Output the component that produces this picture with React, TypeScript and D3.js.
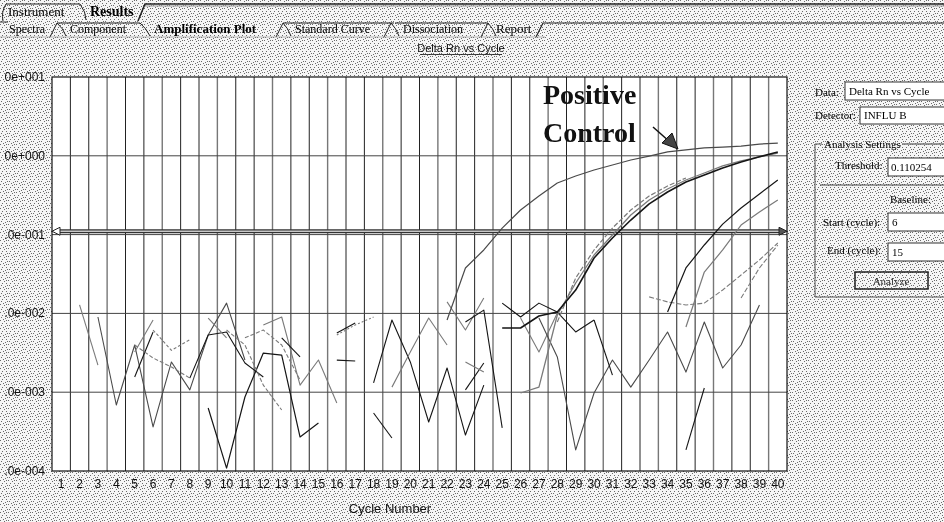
import React from 'react';
import * as d3 from 'd3';

// ---------- data ----------
const cycles = d3.range(1, 41);
const yTickValues = [1e-4, 1e-3, 1e-2, 1e-1, 1, 10];
const yTickLabels = ['.0e-004', '.0e-003', '.0e-002', '.0e-001', '0e+000', '0e+001'];
const threshold = 0.110254;

type Series = { start: number; values: number[] };

// amplification curves
const positiveControl: Series = { start: 22, values: [0.00825, 0.0377, 0.0638, 0.121, 0.205, 0.309, 0.452, 0.554, 0.661, 0.764, 0.885, 0.99, 1.12, 1.19, 1.26, 1.29, 1.33, 1.41, 1.45] };
const sampleA1: Series = { start: 25, values: [0.00653, 0.00653, 0.00927, 0.0104, 0.0198, 0.0505, 0.0906, 0.153, 0.245, 0.347, 0.465, 0.571, 0.7, 0.834, 0.97, 1.12] };
const sampleA2: Series = { start: 26, values: [0.000977, 0.00116, 0.00955, 0.0243, 0.0551, 0.0988, 0.177, 0.275, 0.379, 0.493, 0.605, 0.743, 0.86, 0.97, 1.08] };
const sampleA3: Series = { start: 28, values: [0.00778, 0.0281, 0.0638, 0.121, 0.205, 0.309, 0.414, 0.523] };
const sampleB1: Series = { start: 34, values: [0.0104, 0.0377, 0.0738, 0.136, 0.218, 0.328, 0.493] };
const sampleB2: Series = { start: 35, values: [0.00672, 0.0335, 0.0638, 0.132, 0.194, 0.275] };
const sampleB3: Series = { start: 33, values: [0.0162, 0.014, 0.0128, 0.0135, 0.0198, 0.0307, 0.0476, 0.0782] };
const sampleB4: Series = { start: 38, values: [0.0157, 0.0377, 0.0738] };

// baseline noise fragments
const n1: Series = { start: 2, values: [0.0128, 0.00221] };
const n2: Series = { start: 3, values: [0.009, 0.000688, 0.00397, 0.000362, 0.00242, 0.00107, 0.00532, 0.0135, 0.00256] };
const n3: Series = { start: 5, values: [0.00156, 0.00581] };
const n4: Series = { start: 5, values: [0.00397, 0.00272, 0.00209, 0.00151] };
const n5: Series = { start: 5, values: [0.00324, 0.00825] };
const n6: Series = { start: 8, values: [0.00151, 0.00532, 0.00581, 0.00235, 0.00156] };
const n7: Series = { start: 9, values: [0.00063, 0.000109, 0.000869, 0.00314, 0.00296, 0.00027, 0.000407] };
const n8: Series = { start: 12, values: [0.00713, 0.009, 0.00123, 0.00256, 0.000729] };
const n9: Series = { start: 10, values: [0.00615, 0.00397, 0.00123, 0.000594] };
const n10: Series = { start: 9, values: [0.00874, 0.0049] };
const n11: Series = { start: 16, values: [0.00564, 0.00755] };
const n12: Series = { start: 16, values: [0.00532, 0.00713, 0.009] };
const n13: Series = { start: 16, values: [0.00256, 0.00249] };
const n14: Series = { start: 18, values: [0.000545, 0.000262] };
const n15: Series = { start: 18, values: [0.00131, 0.00825, 0.00242, 0.000419, 0.00203, 0.000286, 0.00123] };
const n16: Series = { start: 19, values: [0.00116, 0.00324, 0.00874, 0.00397] };
const n17: Series = { start: 22, values: [0.014, 0.00615, 0.0157] };
const n18: Series = { start: 23, values: [0.00778, 0.011, 0.000352] };
const n19: Series = { start: 25, values: [0.0135, 0.009, 0.0135, 0.0104, 0.00581, 0.00825] };
const n20: Series = { start: 26, values: [0.00874, 0.00324, 0.0101] };
const n21: Series = { start: 27, values: [0.00874, 0.0028, 0.000185, 0.000977, 0.00256, 0.00116, 0.00256, 0.00581, 0.0018, 0.00778, 0.00203, 0.00397, 0.0128] };
const n22: Series = { start: 30, values: [0.00825, 0.00165] };
const n23: Series = { start: 35, values: [0.000185, 0.00113] };
const n24: Series = { start: 11, values: [0.0049, 0.00615, 0.00397, 0.00143] };
const n25: Series = { start: 23, values: [0.00107, 0.00235] };
const n26: Series = { start: 23, values: [0.00242, 0.0018] };
const n27: Series = { start: 6, values: [0.00615, 0.0034, 0.00465] };
const n28: Series = { start: 13, values: [0.0049, 0.0028] };

const BLACK = '#151515';
const GRAY = '#7a7a7a';
const DARK = '#4a4a4a';

const drawn: { s: Series; c: string; w: number; dash?: string }[] = [
  { s: n1, c: GRAY, w: 1.1 },
  { s: n2, c: DARK, w: 1.1 },
  { s: n3, c: BLACK, w: 1.1 },
  { s: n4, c: GRAY, w: 1.1, dash: '4 2' },
  { s: n5, c: GRAY, w: 1.1 },
  { s: n6, c: BLACK, w: 1.1 },
  { s: n7, c: BLACK, w: 1.2 },
  { s: n8, c: GRAY, w: 1.1 },
  { s: n9, c: GRAY, w: 1.1, dash: '4 2' },
  { s: n10, c: GRAY, w: 1.1 },
  { s: n11, c: BLACK, w: 1.1 },
  { s: n12, c: GRAY, w: 1.1, dash: '2 2' },
  { s: n13, c: BLACK, w: 1.2 },
  { s: n14, c: BLACK, w: 1.1 },
  { s: n15, c: BLACK, w: 1.1 },
  { s: n16, c: GRAY, w: 1.1 },
  { s: n17, c: GRAY, w: 1.1 },
  { s: n18, c: BLACK, w: 1.1 },
  { s: n19, c: BLACK, w: 1.1 },
  { s: n20, c: GRAY, w: 1.1 },
  { s: n21, c: DARK, w: 1.1 },
  { s: n22, c: BLACK, w: 1.1 },
  { s: n23, c: BLACK, w: 1.1 },
  { s: n24, c: GRAY, w: 1.1, dash: '4 2' },
  { s: n25, c: BLACK, w: 1.1 },
  { s: n26, c: GRAY, w: 1.1 },
  { s: n27, c: GRAY, w: 1.1, dash: '3 2' },
  { s: n28, c: BLACK, w: 1.1 },
  { s: sampleB3, c: GRAY, w: 1.1, dash: '5 2' },
  { s: sampleB4, c: GRAY, w: 1.1, dash: '5 2' },
  { s: sampleB2, c: GRAY, w: 1.2 },
  { s: sampleB1, c: BLACK, w: 1.2 },
  { s: sampleA3, c: GRAY, w: 1.2, dash: '5 2' },
  { s: sampleA2, c: GRAY, w: 1.3 },
  { s: sampleA1, c: BLACK, w: 1.6 },
  { s: positiveControl, c: DARK, w: 1.2 },
];

const topTabs = ['Instrument', 'Results'];
const subTabs = ['Spectra', 'Component', 'Amplification Plot', 'Standard Curve', 'Dissociation', 'Report'];

// ---------- component ----------
export default function App() {
  const W = 944, H = 522;
  const L = 52, R = 787, T = 77, B = 471;
  const x = d3.scaleLinear().domain([0.5, 40.5]).range([L, R]);
  const y = d3.scaleLog().domain([1e-4, 10]).range([B, T]);
  const line = d3.line<[number, number]>().x(d => x(d[0])).y(d => y(d[1]));
  const toPts = (s: Series): [number, number][] => s.values.map((v, i) => [s.start + i, v]);

  const dots: [number, number][] = [[0, 0], [4, 1], [2, 3], [6, 3], [1, 5], [5, 6], [3, 7], [7, 5], [6, 0]];
  const serif = 'Liberation Serif, Times New Roman, serif';
  const sans = 'Liberation Sans, Arial, sans-serif';
  const ty = y(threshold);

  return (
    <svg width={W} height={H} style={{ position: 'fixed', left: 0, top: 0, display: 'block' }}>
      <defs>
        <pattern id="stip" width={8} height={8} patternUnits="userSpaceOnUse">
          <rect width={8} height={8} fill="#f5f5f5" />
          {dots.map(([a, b], i) => <rect key={i} x={a} y={b} width={1} height={1} fill="#6a6a6a" />)}
        </pattern>
        <clipPath id="plotClip"><rect x={L} y={T} width={R - L} height={B - T} /></clipPath>
      </defs>
      <rect width={W} height={H} fill="url(#stip)" />

      {/* tabs row 1 */}
      <g fontFamily={serif} fill="#000">
        <path d="M3,21 Q1,12 6,4 L80,4 Q86,12 86,20" fill="none" stroke="#222" strokeWidth={1} />
        <text x={8} y={16} fontSize={13}>{topTabs[0]}</text>
        <text x={90} y={16} fontSize={14} fontWeight="bold">{topTabs[1]}</text>
        <path d="M138,21 L145,4 L944,4" fill="none" stroke="#222" strokeWidth={1.5} />
        <line x1={145} y1={6} x2={944} y2={6} stroke="#999" strokeWidth={1} />
        {/* tabs row 2 */}
        <line x1={0} y1={22} x2={8} y2={22} stroke="#333" />
        <text x={9} y={33} fontSize={12}>{subTabs[0]}</text>
        <path d="M50,37 L57,23 Q63,28 66,36" fill="none" stroke="#222" />
        <path d="M57,23 L140,23 Q146,28 150,36" fill="none" stroke="#222" />
        <text x={70} y={33} fontSize={12}>{subTabs[1]}</text>
        <text x={154} y={33} fontSize={13} fontWeight="bold">{subTabs[2]}</text>
        <path d="M276,37 L283,23 Q288,28 291,36" fill="none" stroke="#222" />
        <path d="M283,23 L394,23" fill="none" stroke="#222" />
        <text x={295} y={33} fontSize={12}>{subTabs[3]}</text>
        <path d="M384,37 L391,23 Q396,28 399,36" fill="none" stroke="#222" />
        <text x={403} y={33} fontSize={12}>{subTabs[4]}</text>
        <path d="M395,23 L488,23" fill="none" stroke="#222" />
        <path d="M481,37 L488,23 Q493,28 496,36" fill="none" stroke="#222" />
        <text x={496} y={33} fontSize={13}>{subTabs[5]}</text>
        <path d="M536,37 L543,23 L944,23" fill="none" stroke="#222" strokeWidth={1.2} />
        <line x1={0} y1={37} x2={545} y2={37} stroke="#888" strokeWidth={0.6} />
      </g>

      {/* chart title */}
      <text x={461} y={52} fontFamily={sans} fontSize={11} textAnchor="middle" fill="#111">Delta Rn vs Cycle</text>
      <line x1={420} y1={54.5} x2={502} y2={54.5} stroke="#111" strokeWidth={0.8} />

      {/* plot area */}
      <rect x={L} y={T} width={R - L} height={B - T} fill="#fff" />
      {cycles.slice(0, 39).map((c, i) => (
        <line key={c} x1={x(c + 0.5)} x2={x(c + 0.5)} y1={T} y2={B}
          stroke={i % 3 === 2 ? '#777' : '#222'} strokeWidth={i % 3 === 2 ? 1.4 : 1} />
      ))}
      {yTickValues.slice(1, 5).map(v => (
        <line key={v} x1={L} x2={R} y1={y(v)} y2={y(v)} stroke="#444" strokeWidth={1} />
      ))}
      <rect x={L} y={T} width={R - L} height={B - T} fill="none" stroke="#111" strokeWidth={1.2} />

      {/* threshold */}
      <line x1={L + 6} x2={R - 6} y1={ty} y2={ty} stroke="#333" strokeWidth={4} />
      <line x1={L + 6} x2={R - 6} y1={ty} y2={ty} stroke="#c8c8c8" strokeWidth={1.4} />
      <path d={`M${L},${ty} L${L + 8},${ty - 4} L${L + 8},${ty + 4} Z`} fill="#fff" stroke="#222" />
      <path d={`M${R},${ty} L${R - 8},${ty - 4} L${R - 8},${ty + 4} Z`} fill="#555" stroke="#222" />

      {/* curves */}
      <g clipPath="url(#plotClip)" fill="none">
        {drawn.map((d, i) => (
          <path key={i} d={line(toPts(d.s)) || ''} stroke={d.c} strokeWidth={d.w}
            strokeDasharray={d.dash} strokeLinejoin="round" />
        ))}
      </g>

      {/* annotation */}
      <g fontFamily={serif} fontWeight="bold" fontSize={28} fill="#111">
        <text x={543} y={104}>Positive</text>
        <text x={543} y={142}>Control</text>
      </g>
      <line x1={653} y1={127} x2={670} y2={142} stroke="#111" strokeWidth={1.5} />
      <path d="M678,149 L662,143 L672,133 Z" fill="#444" stroke="#111" strokeWidth={1} />

      {/* y axis labels */}
      <g fontFamily={sans} fontSize={12} fill="#111" textAnchor="end">
        {yTickValues.map((v, i) => (
          <text key={v} x={45} y={y(v) + 4}>{yTickLabels[i]}</text>
        ))}
      </g>
      {/* x axis labels */}
      <g fontFamily={sans} fontSize={12} fill="#111" textAnchor="middle">
        {cycles.map(c => <text key={c} x={x(c)} y={488}>{c}</text>)}
      </g>
      <text x={390} y={513} fontFamily={sans} fontSize={13} textAnchor="middle" fill="#111">Cycle Number</text>

      {/* right panel */}
      <g fontFamily={serif} fontSize={11} fill="#000">
        <text x={815} y={96}>Data:</text>
        <rect x={845} y={82} width={110} height={18} fill="#fff" stroke="#333" />
        <text x={849} y={95}>Delta Rn vs Cycle</text>
        <text x={815} y={119}>Detector:</text>
        <rect x={860} y={107} width={95} height={17} fill="#fff" stroke="#333" />
        <text x={864} y={119}>INFLU B</text>
        <path d="M822,144 L815,144 L815,297 L944,297" fill="none" stroke="#555" />
        <line x1={902} y1={144} x2={944} y2={144} stroke="#777" strokeWidth={1.5} />
        <text x={824} y={148}>Analysis Settings</text>
        <text x={835} y={169}>Threshold:</text>
        <rect x={888} y={158} width={70} height={18} fill="#fff" stroke="#333" />
        <text x={891} y={171}>0.110254</text>
        <line x1={820} y1={185} x2={944} y2={185} stroke="#444" />
        <text x={890} y={203}>Baseline:</text>
        <text x={823} y={226}>Start (cycle):</text>
        <rect x={888} y={213} width={70} height={18} fill="#fff" stroke="#333" />
        <text x={892} y={226}>6</text>
        <text x={827} y={254}>End (cycle):</text>
        <rect x={888} y={243} width={70} height={18} fill="#fff" stroke="#333" />
        <text x={892} y={256}>15</text>
        <rect x={855} y={272} width={73} height={17} fill="none" stroke="#222" strokeWidth={1.5} />
        <text x={891} y={285} textAnchor="middle" fill="#333">Analyze</text>
      </g>
    </svg>
  );
}
